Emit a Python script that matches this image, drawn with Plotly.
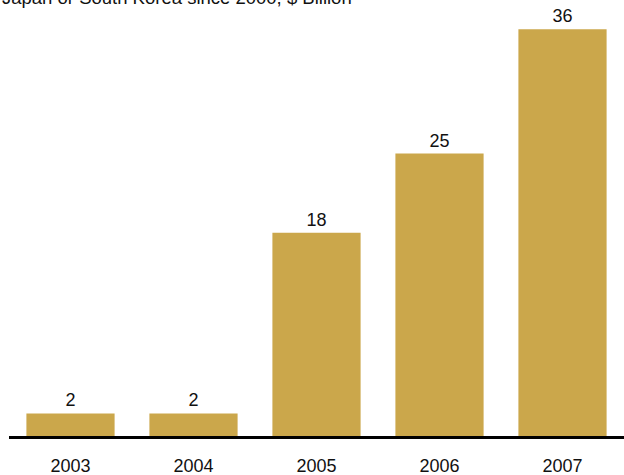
import plotly.graph_objects as go

years = ["2003", "2004", "2005", "2006", "2007"]
values = [2, 2, 18, 25, 36]
subtitle = "Japan or South Korea since 2000, $ Billion"

BAR_COLOR = "#CBA74B"
FONT = "Liberation Sans, Arial, sans-serif"

fig = go.Figure(
    go.Bar(
        x=years,
        y=values,
        marker=dict(color=BAR_COLOR, line=dict(width=0)),
        text=[str(v) for v in values],
        textposition="outside",
        textfont=dict(family=FONT, size=18, color="#111111"),
        cliponaxis=False,
    )
)

fig.add_annotation(
    text=subtitle,
    xref="paper", yref="paper",
    x=-0.0146, y=1.0,
    xanchor="left", yanchor="bottom",
    yshift=-10,
    showarrow=False,
    font=dict(family=FONT, size=18.5, color="#111111"),
)

fig.update_layout(
    width=624,
    height=475,
    margin=dict(l=9, r=0, t=0, b=39),
    paper_bgcolor="white",
    plot_bgcolor="white",
    bargap=0.283,
    showlegend=False,
    font=dict(family=FONT, size=18, color="#111111"),
)
fig.update_xaxes(
    showline=True, linecolor="black", linewidth=3,
    showgrid=False, ticks="", ticklabelstandoff=11,
    tickfont=dict(family=FONT, size=18, color="#111111"),
)
fig.update_yaxes(
    range=[0, 38.6], visible=False, showgrid=False, zeroline=False,
)

fig.write_html("out.html")
